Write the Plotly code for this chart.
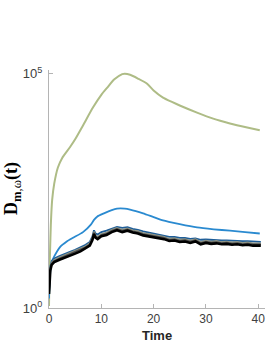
import plotly.graph_objects as go

# ---- data ----
t_green = [0, 0.1, 0.2, 0.35, 0.6, 1.0, 1.7, 2.5, 4.0, 5.0, 6.5, 8.4, 10, 11.1, 12.5, 14, 14.5,
           15.5, 17, 18.7, 20, 21.8, 23.5, 25, 28.3, 31.4, 34.6, 37.9, 40.3]
d_green = [1.1, 6, 16, 60, 200, 450, 1000, 1580, 2700, 4000, 7900, 19000, 35500, 50000, 76000,
           98000, 100000, 95000, 79000, 62000, 44000, 31000, 25000, 21000, 14800, 11000, 8700,
           7100, 6200]

t_blue = [0, 0.15, 0.3, 0.6, 1.0, 2.1, 3.4, 4.6, 6.5, 8.0, 8.6, 9.2, 10.5, 12, 13, 14.5, 15.5,
          18, 20, 21.8, 25, 28.3, 31.5, 34.6, 37.5, 40.3]
d_blue = [1.6, 4.0, 7.1, 10.0, 12.6, 20.0, 26.3, 31.6, 41.7, 60.3, 75.9, 89.1, 104.7, 123.0,
          131.8, 131.8, 125.9, 104.7, 87.1, 74.1, 61.7, 52.5, 47.9, 44.7, 41.7, 38.9]

t_cluster = [0, 0.1, 0.25, 0.5, 1, 2, 3, 4, 5, 6, 7, 7.8, 8.3, 8.6, 8.9, 9.3, 10, 11, 12, 13,
             14, 15, 16, 17, 18, 19, 20, 21, 22, 23, 24, 25, 26, 27, 28, 29, 30, 31, 32, 33,
             34, 35, 36, 37, 38, 39, 40, 40.5]
d_darkblue = [2.4, 4.2, 7.6, 10.0, 11.4, 12.8, 14.4, 15.8, 17.4, 19.4, 22.3, 25.7, 33.8, 45.6,
              38.9, 37.2, 41.7, 44.7, 50.1, 54.0, 51.3, 53.2, 49.0, 46.8, 43.0, 40.7, 38.9,
              36.6, 35.5, 33.1, 32.8, 31.3, 31.2, 30.0, 30.6, 28.6, 29.0, 28.3, 28.4, 27.6,
              27.8, 27.1, 27.2, 26.6, 26.7, 26.0, 26.1, 25.8]
d_gray = [2.2, 3.9, 7.1, 9.3, 10.6, 12.0, 13.4, 14.8, 16.2, 18.1, 20.8, 24.0, 31.6, 42.6, 35.4,
          33.0, 38.0, 40.7, 46.7, 51.2, 46.7, 50.1, 45.6, 43.6, 39.8, 38.0, 36.3, 33.8, 33.0,
          30.1, 30.8, 28.8, 29.5, 27.4, 29.5, 25.6, 27.4, 26.2, 26.9, 25.6, 26.2, 25.1, 25.6,
          24.5, 25.1, 24.0, 24.5, 24.0]
d_darkgray = [2.1, 3.7, 6.7, 8.8, 10.1, 11.4, 12.7, 14.0, 15.4, 17.2, 19.7, 22.7, 29.9, 40.3,
              33.5, 31.3, 35.9, 38.5, 44.2, 48.4, 44.2, 47.4, 43.1, 41.2, 37.6, 35.9, 34.3,
              32.0, 31.3, 28.5, 29.2, 27.2, 27.9, 26.0, 27.9, 24.3, 26.0, 24.8, 25.4, 24.3,
              24.8, 23.7, 24.3, 23.2, 23.7, 22.7, 23.2, 22.7]
d_black = [2.0, 3.5, 6.3, 8.3, 9.5, 10.7, 12.0, 13.2, 14.5, 16.2, 18.6, 21.4, 28.2, 38.0, 31.6,
           29.5, 33.9, 36.3, 41.7, 45.7, 41.7, 44.7, 40.7, 38.9, 35.5, 33.9, 32.4, 30.2, 29.5,
           26.9, 27.5, 25.7, 26.3, 24.5, 26.3, 22.9, 24.5, 23.4, 24.0, 22.9, 23.4, 22.4, 22.9,
           21.9, 22.4, 21.4, 21.9, 21.4]

y_tickvals = [1, 100000]
y_ticktext = ["10<sup>0</sup>", "10<sup>5</sup>"]
x_tickvals = [0, 10, 20, 30, 40]

# ---- figure ----
fig = go.Figure()
fig.add_trace(go.Scatter(x=t_green, y=d_green, mode="lines",
                         line=dict(color="#aebc86", width=2, shape="spline", smoothing=0.6)))
fig.add_trace(go.Scatter(x=t_blue, y=d_blue, mode="lines",
                         line=dict(color="#2a8ad0", width=1.8, shape="spline", smoothing=0.6)))
fig.add_trace(go.Scatter(x=t_cluster, y=d_darkblue, mode="lines",
                         line=dict(color="#1f5e99", width=1.8)))
fig.add_trace(go.Scatter(x=t_cluster, y=d_gray, mode="lines",
                         line=dict(color="#8f9484", width=1.8)))
fig.add_trace(go.Scatter(x=t_cluster, y=d_darkgray, mode="lines",
                         line=dict(color="#4a4a4a", width=1.8)))
fig.add_trace(go.Scatter(x=t_cluster, y=d_black, mode="lines",
                         line=dict(color="#000000", width=2.6)))

axis_col = "#b4b4b4"
fig.update_layout(
    width=266, height=344,
    margin=dict(l=49, r=1, t=70, b=36),
    paper_bgcolor="white", plot_bgcolor="white",
    showlegend=False,
    font=dict(family="Liberation Sans, Arial, sans-serif", color="#404040"),
    xaxis=dict(range=[0, 41.3], tickvals=x_tickvals, ticks="inside", ticklen=4,
               tickcolor=axis_col, showline=True, linecolor=axis_col, linewidth=1,
               showgrid=False, zeroline=False, tickfont=dict(size=12, color="#404040")),
    yaxis=dict(type="log", range=[0, 5.08], tickvals=y_tickvals, ticktext=y_ticktext,
               ticks="inside", ticklen=4, tickcolor=axis_col, showline=True,
               linecolor=axis_col, linewidth=1, showgrid=False, zeroline=False,
               ticklabelstandoff=3,
               tickfont=dict(size=13, color="#404040")),
    annotations=[
        dict(text="<b>D</b><sub><b>m</b>,ω</sub><b>(t)</b>", textangle=-90,
             xref="paper", yref="paper", x=0, y=0.5, xanchor="center", yanchor="middle",
             xshift=-37, showarrow=False,
             font=dict(family="Liberation Serif, DejaVu Serif, serif", size=18, color="#000000")),
        dict(text="<b>Time</b>", xref="paper", yref="paper", x=0.5, y=0,
             xanchor="center", yanchor="middle", yshift=-27, showarrow=False,
             font=dict(family="Liberation Sans, Arial, sans-serif", size=13, color="#262626")),
    ],
)

fig.write_html(
    "out.html",
    config={"displayModeBar": False},
    post_script="document.body.style.margin='0';document.documentElement.style.overflow='hidden';",
)
